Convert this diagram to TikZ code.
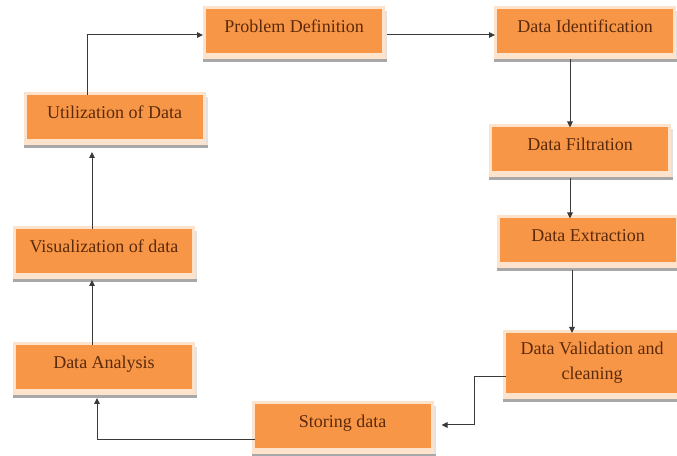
\documentclass[tikz,border=0pt]{standalone}
\usepackage{fontspec}
\setmainfont{Liberation Serif}
\usetikzlibrary{arrows.meta,backgrounds}
\definecolor{boxorange}{HTML}{F79646}
\definecolor{boxcream}{HTML}{FDE2CC}
\definecolor{boxshadow}{HTML}{A8A8A8}
\definecolor{boxshadowlight}{HTML}{E2E2E2}
\definecolor{boxtext}{HTML}{5B2A0C}
\definecolor{linecol}{HTML}{3A3A3A}
\tikzset{
  stagebox/.style={fill=boxorange, draw=none, inner sep=0pt, outer sep=0pt,
    minimum width=176pt, minimum height=44pt, text=boxtext, align=center,
    font=\fontsize{18}{25}\selectfont, text height=12pt, text depth=9pt},
  tallbox/.style={stagebox, minimum width=172pt, minimum height=60pt,
    text height=, text depth=},
  arr/.style={draw=linecol, line width=1pt, -{Triangle[length=6pt,width=5.5pt]}},
}
\newcommand{\boxbg}[1]{%
  \fill[boxshadowlight] ([xshift=-3pt,yshift=-9pt]#1.south west) rectangle ([xshift=5pt,yshift=-2pt]#1.north east);
  \fill[boxshadow] ([xshift=-3pt,yshift=-9pt]#1.south west) rectangle ([xshift=5pt,yshift=-6pt]#1.south east);
  \fill[boxcream] ([xshift=-3pt,yshift=-6pt]#1.south west) rectangle ([xshift=3pt,yshift=3pt]#1.north east);
}
\begin{document}
\begin{tikzpicture}[x=1pt,y=1pt]
\useasboundingbox (0,0) rectangle (677,455);
\node[stagebox] (PD) at (294,423.5) {Problem Definition};
\node[stagebox] (DI) at (585,423.5) {Data Identification};
\node[stagebox] (DF) at (580,305.5) {Data Filtration};
\node[stagebox] (DE) at (588,214.5) {Data Extraction};
\node[tallbox] (DV) at (592,92) {Data Validation and\\cleaning};
\node[stagebox] (SD) at (342.5,29) {Storing data};
\node[stagebox] (DA) at (104,88) {Data Analysis};
\node[stagebox] (VIS) at (104,204) {Visualization of data};
\node[stagebox] (UT) at (114.5,338) {Utilization of Data};
\begin{scope}[on background layer]
\fill[white] (0,0) rectangle (677,455);
\boxbg{PD}\boxbg{DI}\boxbg{DF}\boxbg{DE}\boxbg{DV}\boxbg{SD}\boxbg{DA}\boxbg{VIS}\boxbg{UT}
\end{scope}
\draw[arr] ([xshift=-27.5pt]UT.north) |- ([xshift=-3pt,yshift=-3.5pt]PD.west);
\draw[arr] ([xshift=5pt,yshift=-3.5pt]PD.east) -- ([xshift=-2pt,yshift=-3.5pt]DI.west);
\draw[arr] ([xshift=-15pt,yshift=-6pt]DI.south) -- ([xshift=-10pt]DF.north);
\draw[arr] ([xshift=-10pt,yshift=-7pt]DF.south) -- ([xshift=-18pt]DE.north);
\draw[arr] ([xshift=-16pt,yshift=-8pt]DE.south) -- ([xshift=-20pt]DV.north);
\draw[arr] ([yshift=-14pt]DV.west) -- ++(-32pt,0) |- ([xshift=11pt,yshift=1pt]SD.east);
\draw[arr] ([yshift=-13.5pt]SD.west) -| ([xshift=-7pt,yshift=-9pt]DA.south);
\draw[arr] ([xshift=-12pt]DA.north) -- ([xshift=-12pt,yshift=-7pt]VIS.south);
\draw[arr] ([xshift=-12pt]VIS.north) -- ([xshift=-22.5pt,yshift=-13pt]UT.south);
\end{tikzpicture}
\end{document}
